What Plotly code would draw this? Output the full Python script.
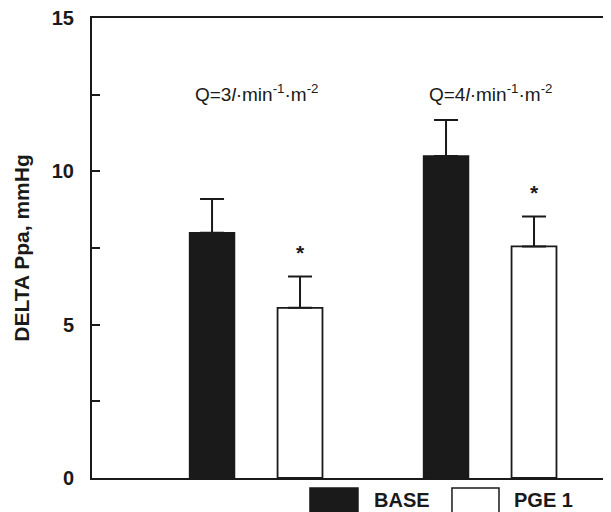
import plotly.graph_objects as go

# Data
groups = [0, 1]
group_labels = ["Q=3<i>l</i>·min<sup>-1</sup>·m<sup>-2</sup>",
                "Q=4<i>l</i>·min<sup>-1</sup>·m<sup>-2</sup>"]
base_mean = [8.0, 10.5]
base_err = [1.1, 1.17]
pge_mean = [5.55, 7.55]
pge_err = [1.02, 0.98]
pge_significant = [True, True]
y_ticks = [0, 5, 10, 15]

FONT = "Liberation Sans, Arial, Helvetica, sans-serif"
INK = "#1a1a1a"
BAR_W = 0.192

fig = go.Figure()
fig.add_trace(go.Bar(
    x=groups, y=base_mean, width=BAR_W, offset=-0.284, name="BASE",
    marker=dict(color=INK, line=dict(color=INK, width=1.5)),
    error_y=dict(type="data", array=base_err, arrayminus=[0, 0], symmetric=False,
                 color=INK, thickness=2, width=12),
    showlegend=False,
))
fig.add_trace(go.Bar(
    x=groups, y=pge_mean, width=BAR_W, offset=0.092, name="PGE 1",
    marker=dict(color="white", line=dict(color=INK, width=1.8)),
    error_y=dict(type="data", array=pge_err, arrayminus=[0, 0], symmetric=False,
                 color=INK, thickness=2, width=12),
    showlegend=False,
))

annotations = []
for g, lab in zip(groups, group_labels):
    annotations.append(dict(x=g, y=12.55, xref="x", yref="y", text=lab, showarrow=False,
                            font=dict(family=FONT, size=19, color=INK)))
for g, m, e, s in zip(groups, pge_mean, pge_err, pge_significant):
    if s:
        annotations.append(dict(x=g + 0.092 + BAR_W / 2, y=m + e, xref="x", yref="y",
                                text="<b>*</b>", showarrow=False, yanchor="middle",
                                yshift=24, font=dict(family=FONT, size=21, color=INK)))

# Legend drawn below the axis
legend_items = [("BASE", INK, 0.42, 0.5125, 0.5395), ("PGE 1", "white", 0.6936, 0.7842, 0.809)]
shapes = []
for label, col, x0, x1, tx in legend_items:
    shapes.append(dict(type="rect", xref="paper", yref="paper", x0=x0, x1=x1, y0=-0.2,
                       y1=-0.022, fillcolor=col, line=dict(color=INK, width=1.5)))
    annotations.append(dict(x=tx, y=-0.047, xref="paper", yref="paper", text="<b>%s</b>" % label,
                            xanchor="left", yanchor="middle", showarrow=False,
                            font=dict(family=FONT, size=20, color=INK)))

fig.update_layout(
    width=611, height=512,
    margin=dict(l=84, r=8, t=10, b=42),
    paper_bgcolor="white", plot_bgcolor="white",
    barmode="overlay",
    annotations=annotations, shapes=shapes,
    font=dict(family=FONT, color=INK),
)
fig.update_xaxes(range=[-0.701, 1.517], showgrid=False, zeroline=False, showticklabels=False,
                 ticks="", showline=True, linecolor=INK, linewidth=2, mirror=True)
fig.update_yaxes(range=[0, 15], tickvals=y_ticks, ticktext=["<b>%d</b>" % v for v in y_ticks],
                 ticks="inside", ticklen=8, tickwidth=1.5, tickcolor=INK,
                 minor=dict(tickvals=[2.5, 7.5, 12.5], ticks="inside", ticklen=8,
                            tickwidth=1.5, tickcolor=INK),
                 showgrid=False, zeroline=False, showline=True, linecolor=INK, linewidth=2,
                 tickfont=dict(family=FONT, size=20, color=INK), ticklabelstandoff=12,
                 ticklabeloverflow="allow",
                 title=dict(text="<b>DELTA Ppa, mmHg</b>", font=dict(family=FONT, size=21, color=INK),
                            standoff=16),
                 automargin=False)

fig.write_html("out.html")
